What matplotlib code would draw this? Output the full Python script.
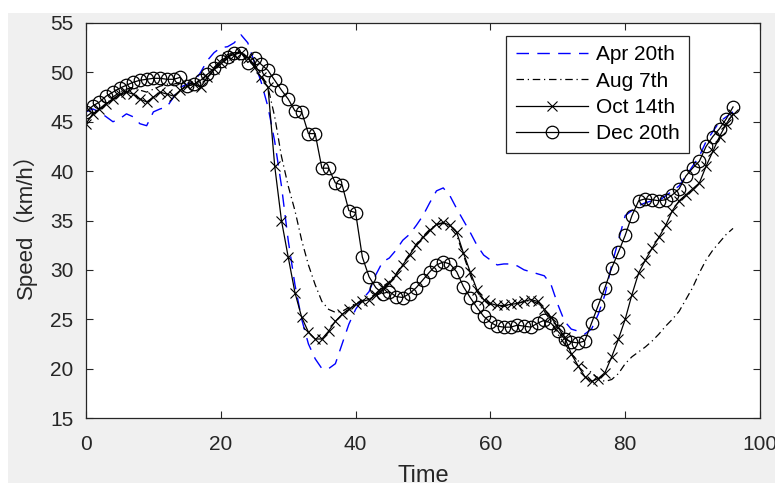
import numpy as np
import matplotlib
matplotlib.use("Agg")
import matplotlib.pyplot as plt
from matplotlib.patches import Rectangle

plt.rcParams['font.family'] = ['Liberation Sans', 'Noto Sans CJK SC', 'DejaVu Sans']

# time index (15 min slots)
time = np.arange(0, 97)

apr_20 = [46, 46.3, 46, 45.5, 45, 45.3, 45.8, 45.5, 44.8, 44.6,
          46, 46.3, 46.5, 47.5, 48.5, 48.8, 49, 50, 51.2, 52,
          52.5, 52.6, 53, 53.8, 53, 51, 49, 46.5, 43, 38.5,
          33, 28.5, 25, 22.5, 21, 20, 20, 20.5, 22.5, 24.5,
          26, 27, 27.8, 29.5, 30.8, 31.2, 32, 33, 33.6, 34.5,
          35.5, 36.8, 38, 38.3, 37.5, 36.2, 35, 33.8, 32.5, 31.5,
          31, 30.5, 30.6, 30.6, 30.4, 30, 29.8, 29.6, 29.4, 28.5,
          26.5, 24.8, 24, 23.8, 23.5, 24, 25.5, 27.5, 30.5, 33,
          35.5, 36, 36.5, 36.8, 37, 37, 37.5, 38, 38.5, 39.5,
          40.5, 41.5, 43, 44, 45, 45.5, 46]

aug_7 = [45.5, 46, 46.3, 46.8, 47.5, 48, 48.3, 48.5, 48.2, 48,
         48.3, 48.6, 48.8, 48.8, 49, 49, 48.8, 49, 49.8, 50.5,
         51.2, 51.8, 52, 52, 51.5, 50.8, 49.8, 48.5, 45.5, 41.5,
         38.5, 36, 33, 30.5, 28.5, 26.8, 26, 25.7, 25.8, 26.2,
         26.6, 26.9, 27.1, 27.6, 28.3, 28.8, 29.6, 30.6, 31.6, 32.6,
         33.4, 34.1, 34.6, 34.7, 34.3, 33.5, 31.5, 29.5, 27.8, 26.9,
         26.5, 26.3, 26.3, 26.5, 26.6, 26.8, 26.9, 26.6, 25.8, 24.8,
         23.5, 22.5, 21.5, 20.8, 20.2, 19.6, 19, 18.7, 18.9, 19.5,
         20.5, 21.2, 21.7, 22.2, 22.8, 23.5, 24.3, 25, 25.8, 27,
         28.2, 29.7, 31, 32, 32.8, 33.6, 34.2]

oct_14 = [44.8, 45.8, 46.3, 46.8, 47.3, 47.8, 48, 47.8, 47.3, 47,
          47.5, 48, 47.8, 47.6, 48.2, 48.6, 48.8, 48.5, 49.5, 50.3,
          51, 51.6, 51.8, 52, 51.5, 50.5, 49.5, 48.5, 40.5, 35,
          31.3, 27.7, 25.2, 23.7, 23, 23, 23.8, 24.8, 25.5, 26,
          26.5, 26.8, 27, 27.5, 28.2, 28.7, 29.5, 30.5, 31.5, 32.5,
          33.3, 34, 34.6, 34.8, 34.5, 33.8, 31.7, 29.8, 28, 27,
          26.6, 26.4, 26.4, 26.5, 26.6, 26.8, 27, 26.8, 26, 25.2,
          24.2, 23.2, 21.5, 20.3, 19.2, 18.7, 19, 19.6, 21.2, 23,
          25, 27.5, 29.7, 31, 32.2, 33.3, 34.5, 36, 37, 37.6,
          38.2, 38.8, 40.5, 42, 43.5, 44.8, 45.8]

dec_20 = [46, 46.6, 47, 47.6, 48, 48.4, 48.7, 49, 49.2, 49.3,
          49.4, 49.4, 49.3, 49.3, 49.5, 48.6, 48.8, 49.2, 49.8, 50.4,
          51.2, 51.6, 52, 52, 51, 51.5, 50.8, 50.2, 49.2, 48.2,
          47.3, 46.1, 46, 43.8, 43.8, 40.3, 40.3, 38.8, 38.6, 36,
          35.8, 31.3, 29.3, 28.2, 27.6, 27.8, 27.3, 27.2, 27.6, 28.2,
          29, 29.8, 30.5, 30.8, 30.6, 29.8, 28.3, 27.2, 26.2, 25.3,
          24.7, 24.3, 24.2, 24.2, 24.4, 24.3, 24.2, 24.6, 24.9, 24.6,
          23.8, 23, 22.7, 22.6, 22.8, 24.6, 26.4, 28.2, 30.2, 31.8,
          33.5, 35.5, 37, 37.2, 37.1, 37, 37.1, 37.6, 38.2, 39.5,
          40.3, 41, 42.5, 43.5, 44.3, 45.3, 46.5]

labels = ["Apr 20th", "Aug 7th", "Oct 14th", "Dec 20th"]

fig = plt.figure(figsize=(7.75, 4.83), dpi=100)
fig.patch.set_facecolor("white")
# MATLAB style grey figure panel, white strip top and left
fig.patches.append(Rectangle((8 / 775, 0), 1, (483 - 13) / 483,
                             transform=fig.transFigure, facecolor="#f0f0f0",
                             edgecolor="none", zorder=-10))

ax = fig.add_axes([86 / 775, (483 - 418) / 483, 674 / 775, 395 / 483])
ax.set_facecolor("white")

ax.plot(time, apr_20, color="blue", lw=1.0, dashes=(9, 6), label=labels[0])
ax.plot(time, aug_7, color="black", lw=0.9, dashes=(6, 3, 1, 3), label=labels[1])
ax.plot(time, oct_14, color="black", lw=0.9, marker="x", markersize=7,
        markeredgewidth=0.8, label=labels[2])
ax.plot(time, dec_20, color="black", lw=0.9, marker="o", markersize=9,
        markerfacecolor="none", markeredgewidth=0.9, label=labels[3])

ax.set_xlim(0, 100)
ax.set_ylim(15, 55)
ax.set_xticks(np.arange(0, 101, 20))
ax.set_yticks(np.arange(15, 56, 5))
ax.tick_params(direction="in", length=5, width=0.8, top=True, right=True,
               labelsize=15, colors="#262626")
ax.tick_params(axis="x", pad=12)
ax.tick_params(axis="y", pad=9)
for s in ax.spines.values():
    s.set_color("#262626")
    s.set_linewidth(0.9)

ax.set_xlabel("Time", fontsize=17, color="#262626")
ax.set_ylabel("Speed（km/h）", fontsize=16, color="#262626")
ax.xaxis.set_label_coords(0.5, -0.118)
ax.yaxis.set_label_coords(-0.073, 0.5)

leg = ax.legend(loc="upper right", bbox_to_anchor=((689 - 86) / 674, (418 - 36) / 395),
                borderaxespad=0, fontsize=15, fancybox=False, framealpha=1,
                edgecolor="#262626", handlelength=3.45, labelspacing=0.35,
                borderpad=0.45, handletextpad=0.4)
leg.get_frame().set_linewidth(0.9)

fig.savefig("out.png", dpi=100)
